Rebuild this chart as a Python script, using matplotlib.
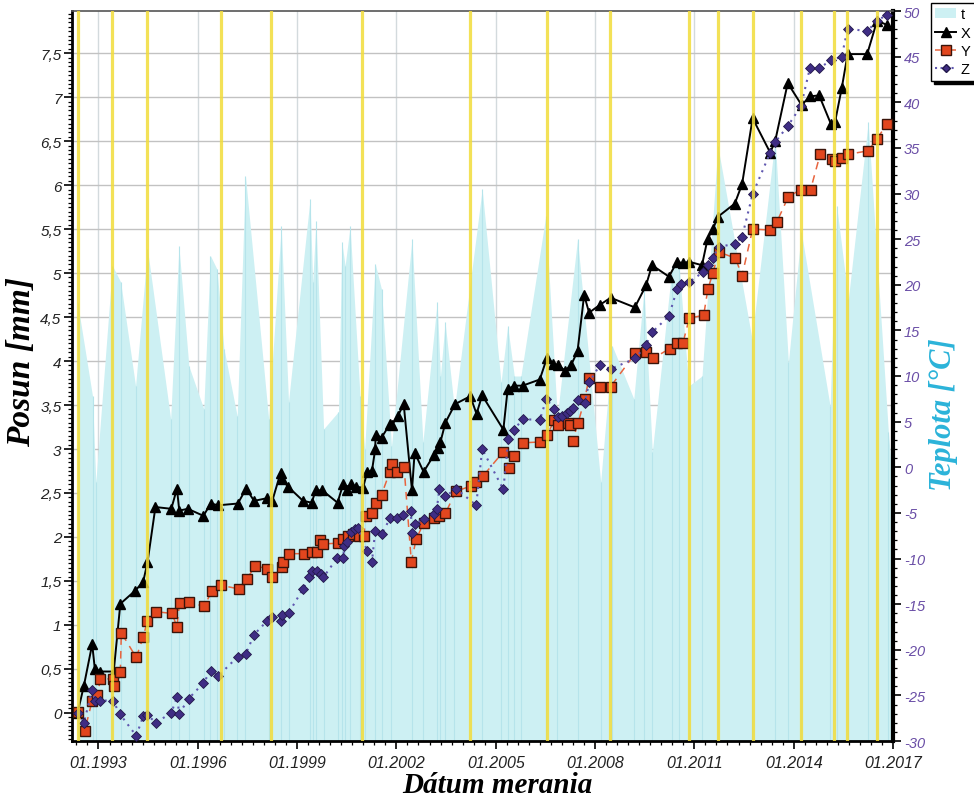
import matplotlib
matplotlib.use('Agg')
import matplotlib.pyplot as plt
from matplotlib.ticker import MultipleLocator
from matplotlib.lines import Line2D
from matplotlib.patches import Patch

plt.rcParams['font.family'] = ['Liberation Sans', 'DejaVu Sans']

# ---------------- data (decimal years) ----------------
x_dates = [1992.37, 1992.56, 1992.81, 1992.89, 1993.06, 1993.46, 1993.66, 1994.11, 1994.35, 1994.48,
           1994.72, 1995.20, 1995.37, 1995.44, 1995.70, 1996.17, 1996.39, 1996.62, 1997.21, 1997.46,
           1997.70, 1998.08, 1998.25, 1998.50, 1998.53, 1998.73, 1999.18, 1999.44, 1999.56, 1999.76,
           2000.22, 2000.39, 2000.51, 2000.64, 2000.79, 2000.99, 2001.12, 2001.26, 2001.36, 2001.37,
           2001.55, 2001.80, 2001.86, 2002.05, 2002.22, 2002.47, 2002.55, 2002.82, 2003.13, 2003.25,
           2003.33, 2003.48, 2003.77, 2004.23, 2004.42, 2004.59, 2005.23, 2005.36, 2005.56, 2005.81,
           2006.33, 2006.55, 2006.74, 2006.89, 2007.10, 2007.27, 2007.47, 2007.67, 2007.82, 2008.15,
           2008.47, 2009.20, 2009.54, 2009.72, 2010.23, 2010.48, 2010.65, 2010.83, 2011.23, 2011.40,
           2011.56, 2011.71, 2012.22, 2012.44, 2012.76, 2013.29, 2013.44, 2013.82, 2014.24, 2014.49,
           2014.77, 2015.12, 2015.25, 2015.45, 2015.63, 2016.22, 2016.52, 2016.83]
x_vals = [0.00, 0.31, 0.78, 0.50, 0.47, 0.47, 1.24, 1.39, 1.49, 1.71,
          2.34, 2.32, 2.55, 2.30, 2.32, 2.24, 2.38, 2.36, 2.38, 2.55,
          2.41, 2.44, 2.41, 2.73, 2.66, 2.57, 2.41, 2.39, 2.53, 2.53,
          2.39, 2.60, 2.53, 2.60, 2.57, 2.56, 2.74, 2.75, 3.00, 3.16,
          3.13, 3.28, 3.27, 3.38, 3.51, 2.53, 2.96, 2.74, 2.93, 3.01,
          3.08, 3.30, 3.51, 3.60, 3.40, 3.61, 3.22, 3.68, 3.72, 3.72,
          3.79, 4.04, 3.97, 3.95, 3.89, 3.95, 4.11, 4.75, 4.55, 4.64,
          4.72, 4.61, 4.86, 5.09, 4.96, 5.13, 5.11, 5.13, 5.09, 5.39,
          5.50, 5.64, 5.79, 6.01, 6.76, 6.37, 6.50, 7.16, 6.91, 7.01,
          7.02, 6.70, 6.72, 7.10, 7.49, 7.49, 7.87, 7.82]

y_dates = [1992.38, 1992.58, 1992.81, 1992.96, 1993.06, 1993.44, 1993.46, 1993.66, 1993.69, 1994.14,
           1994.35, 1994.48, 1994.75, 1995.22, 1995.37, 1995.45, 1995.74, 1996.19, 1996.42, 1996.70,
           1997.23, 1997.48, 1997.73, 1998.10, 1998.25, 1998.53, 1998.56, 1998.75, 1999.21, 1999.44,
           1999.59, 1999.69, 1999.79, 2000.24, 2000.39, 2000.54, 2000.69, 2000.87, 2001.01, 2001.09,
           2001.26, 2001.37, 2001.55, 2001.80, 2001.86, 2002.03, 2002.23, 2002.45, 2002.60, 2002.83,
           2003.15, 2003.30, 2003.48, 2003.80, 2004.26, 2004.41, 2004.61, 2005.23, 2005.39, 2005.56,
           2005.81, 2006.34, 2006.56, 2006.77, 2006.89, 2007.17, 2007.24, 2007.32, 2007.49, 2007.69,
           2007.82, 2008.15, 2008.47, 2009.22, 2009.53, 2009.75, 2010.25, 2010.48, 2010.65, 2010.85,
           2011.28, 2011.41, 2011.56, 2011.73, 2012.24, 2012.44, 2012.76, 2013.29, 2013.49, 2013.84,
           2014.22, 2014.51, 2014.80, 2015.15, 2015.25, 2015.45, 2015.63, 2016.25, 2016.52, 2016.83]
y_vals = [0.01, -0.21, 0.14, 0.20, 0.38, 0.39, 0.31, 0.47, 0.91, 0.63,
          0.86, 1.05, 1.15, 1.13, 0.98, 1.25, 1.26, 1.21, 1.38, 1.45,
          1.41, 1.52, 1.67, 1.64, 1.54, 1.66, 1.71, 1.81, 1.81, 1.83,
          1.83, 1.96, 1.92, 1.93, 1.98, 2.01, 2.03, 2.01, 2.01, 2.24,
          2.27, 2.39, 2.48, 2.74, 2.83, 2.74, 2.80, 1.72, 1.98, 2.16,
          2.22, 2.24, 2.27, 2.52, 2.58, 2.63, 2.69, 2.97, 2.78, 2.92,
          3.07, 3.08, 3.16, 3.33, 3.27, 3.29, 3.27, 3.09, 3.30, 3.57,
          3.81, 3.71, 3.71, 4.09, 4.10, 4.03, 4.14, 4.20, 4.20, 4.49,
          4.52, 4.82, 5.00, 5.24, 5.17, 4.97, 5.50, 5.49, 5.58, 5.87,
          5.95, 5.95, 6.35, 6.30, 6.28, 6.31, 6.35, 6.39, 6.53, 6.70]

z_dates = [1992.38, 1992.56, 1992.81, 1992.89, 1993.06, 1993.44, 1993.64, 1994.14, 1994.35, 1994.48,
           1994.74, 1995.20, 1995.37, 1995.44, 1995.72, 1996.17, 1996.39, 1996.62, 1997.21, 1997.45,
           1997.70, 1998.08, 1998.23, 1998.50, 1998.55, 1998.75, 1999.18, 1999.36, 1999.45, 1999.61,
           1999.71, 1999.79, 2000.21, 2000.39, 2000.43, 2000.51, 2000.62, 2000.74, 2000.84, 2001.12,
           2001.26, 2001.36, 2001.55, 2001.82, 2002.02, 2002.20, 2002.43, 2002.47, 2002.55, 2002.83,
           2003.12, 2003.22, 2003.30, 2003.48, 2003.80, 2004.41, 2004.59, 2005.23, 2005.38, 2005.56,
           2005.81, 2006.33, 2006.53, 2006.77, 2006.89, 2007.00, 2007.14, 2007.24, 2007.32, 2007.49,
           2007.69, 2007.82, 2008.14, 2008.47, 2009.22, 2009.53, 2009.73, 2010.23, 2010.48, 2010.61,
           2010.85, 2011.26, 2011.41, 2011.56, 2011.73, 2012.22, 2012.44, 2012.76, 2013.29, 2013.44,
           2013.82, 2014.22, 2014.49, 2014.77, 2015.13, 2015.45, 2015.63, 2016.22, 2016.52, 2016.83]
z_vals = [0.00, -0.11, 0.26, 0.14, 0.14, 0.14, -0.01, -0.26, -0.04, -0.03,
          -0.11, 0.00, 0.18, -0.01, 0.16, 0.34, 0.48, 0.42, 0.64, 0.67,
          0.89, 1.04, 1.09, 1.05, 1.11, 1.14, 1.41, 1.54, 1.61, 1.61,
          1.58, 1.54, 1.76, 1.76, 1.90, 1.94, 2.06, 2.09, 2.10, 1.84,
          1.72, 2.07, 2.03, 2.22, 2.22, 2.25, 2.30, 2.05, 2.15, 2.20,
          2.26, 2.32, 2.55, 2.46, 2.55, 2.36, 3.00, 2.54, 3.11, 3.22,
          3.34, 3.33, 3.57, 3.45, 3.36, 3.38, 3.41, 3.43, 3.47, 3.56,
          3.52, 3.76, 3.95, 3.91, 4.03, 4.18, 4.33, 4.51, 4.82, 4.88,
          4.90, 5.01, 5.09, 5.17, 5.30, 5.33, 5.41, 5.90, 6.37, 6.49,
          6.67, 6.90, 7.33, 7.33, 7.42, 7.46, 7.78, 7.75, 7.87, 7.94]

t_dates = [1992.37, 1992.82, 1992.92, 1993.42, 1993.67, 1994.12, 1994.48, 1995.18, 1995.43, 1995.73,
           1996.18, 1996.38, 1996.58, 1996.79, 1997.19, 1997.44, 1998.14, 1998.52, 1998.74, 1999.39,
           1999.47, 1999.57, 1999.80, 2000.25, 2000.35, 2000.45, 2000.60, 2000.90, 2001.04, 2001.36,
           2001.55, 2001.85, 2002.47, 2002.80, 2003.23, 2003.33, 2003.47, 2003.75, 2004.59, 2005.16,
           2005.36, 2005.56, 2005.76, 2006.51, 2006.86, 2007.47, 2008.17, 2008.52, 2009.17, 2009.48,
           2009.73, 2010.33, 2010.53, 2010.83, 2011.23, 2011.71, 2012.74, 2013.44, 2013.84, 2014.23,
           2015.10, 2015.30, 2015.65, 2016.25, 2016.86, 2016.95]
t_vals = [18.0, 7.8, -1.6, 22.1, 20.3, 8.9, 23.9, 5.3, 24.2, 11.1,
          6.4, 23.2, 21.7, 13.0, 5.6, 31.9, 5.3, 26.4, 7.2, 29.4,
          20.3, 27.0, 4.2, 6.1, 24.7, 22.1, 26.4, 7.8, 2.0, 22.3,
          19.5, 2.3, 25.0, 2.8, 18.1, 10.0, 15.9, 6.4, 30.5, 9.3,
          15.5, 10.0, 10.0, 27.5, 5.6, 25.0, -1.6, 13.3, 7.5, 19.5,
          1.7, 22.1, 22.5, 8.9, 10.0, 35.2, 14.1, 36.0, 11.5, 25.8,
          6.7, 28.6, 18.4, 37.8, 3.9, 0.0]

event_dates = [1992.37, 1993.42, 1994.48, 1996.70, 1998.21, 2000.95, 2004.23, 2006.55,
               2008.45, 2010.83, 2011.70, 2012.76, 2014.23, 2015.23, 2015.62, 2016.52]

year_ticks = [1993, 1996, 1999, 2002, 2005, 2008, 2011, 2014, 2017]
year_labels = ['01.%d' % y for y in year_ticks]
mm_ticks = [i * 0.5 for i in range(16)]
mm_labels = [('%g' % v).replace('.', ',') for v in mm_ticks]
t_ticks = list(range(-30, 51, 5))
t_labels = [str(v) for v in t_ticks]

# ---------------- styles ----------------
FILL = '#cdf0f3'
STRIPE = '#b6e4eb'
YELLOW = '#f2dc3a'
RED = '#e2461e'
PURPLE = '#3f2d84'
TICKPURPLE = '#6a4ea6'
CYAN_LABEL = '#2bb3d9'

fig = plt.figure(figsize=(9.74, 8.03), dpi=100)
ax = fig.add_axes([72 / 974, 1 - 742 / 803, (893 - 72) / 974, 730 / 803])
ax2 = ax.twinx()
ax3 = ax.twinx()
ax.set_zorder(0)
ax2.set_zorder(1)
ax3.set_zorder(2)
ax2.patch.set_visible(False)
ax3.patch.set_visible(False)

xlim = (1992.2, 2017.0)
ylim = (-0.32, 7.98)
ax.set_xlim(*xlim)
ax.set_ylim(*ylim)
ax3.set_ylim(*ylim)
ax2.set_ylim(-30, 50)

# grid (bottom layer)
ax.grid(True, which='major', axis='y', color='#c2c2c2', lw=1.0)
ax.grid(True, which='major', axis='x', color='#d3dadd', lw=1.0)
for s in ax.spines.values():
    s.set_visible(False)

# temperature area
ax2.fill_between(t_dates, -30, t_vals, color=FILL, lw=0, zorder=1)
ax2.vlines(t_dates, -30, t_vals, color=STRIPE, lw=0.8, zorder=1.5)

# displacement series
ax3.plot(x_dates, x_vals, color='black', lw=1.4, marker='^', ms=7.5,
         mfc='black', mec='black', zorder=3)
ax3.plot(y_dates, y_vals, color='#e8643e', lw=1.1, ls=(0, (5, 4)), marker='s', ms=7.5,
         mfc=RED, mec='#3a140a', mew=1.0, zorder=4)
ax3.plot(z_dates, z_vals, color='#6058b0', lw=1.5, ls=(0, (1, 2.5)), marker='D', ms=5.2,
         mfc=PURPLE, mec='#22184a', mew=0.6, zorder=5)
for d in event_dates:
    ax3.axvline(d, color=YELLOW, lw=2.3, alpha=0.85, zorder=6)
ax3.set_axis_off()

# spines on ax2
ax2.spines['left'].set_linewidth(2.0)
ax2.spines['left'].set_color('black')
ax2.spines['bottom'].set_linewidth(2.0)
ax2.spines['bottom'].set_color('black')
ax2.spines['right'].set_linewidth(3.0)
ax2.spines['right'].set_color('black')
ax2.spines['top'].set_linewidth(1.2)
ax2.spines['top'].set_color('#555555')

# ticks
ax.set_xticks(year_ticks, labels=year_labels, fontstyle='italic', fontsize=11.5)
ax.xaxis.set_minor_locator(MultipleLocator(1 / 3))
ax.set_yticks(mm_ticks, labels=mm_labels, fontstyle='italic', fontsize=11)
ax.yaxis.set_minor_locator(MultipleLocator(0.05))
ax.tick_params(axis='x', which='major', direction='out', length=6, width=1.2, colors='black', pad=4)
ax.tick_params(axis='y', which='major', direction='out', length=6, width=1.2, colors='black', pad=1.5)
ax.tick_params(axis='both', which='minor', direction='out', length=3, width=0.9, colors='black')
for lbl in ax.get_xticklabels() + ax.get_yticklabels():
    lbl.set_color('#222222')

ax2.set_yticks(t_ticks, labels=t_labels, fontstyle='italic', fontsize=10.5)
ax2.yaxis.set_minor_locator(MultipleLocator(1))
ax2.tick_params(axis='y', which='major', direction='out', length=6, width=1.2, colors='black', pad=2)
ax2.tick_params(axis='y', which='minor', direction='out', length=3, width=0.9, colors='black')
for lbl in ax2.get_yticklabels():
    lbl.set_color(TICKPURPLE)

# axis titles
serif = ['Liberation Serif', 'DejaVu Serif']
fig.text(497 / 974, 1 - 786 / 803, 'Dátum merania', family=serif, fontsize=21,
         fontweight='bold', fontstyle='italic', ha='center', va='center')
fig.text(22 / 974, 1 - 362 / 803, 'Posun [mm]', family=serif, fontsize=24,
         fontweight='bold', fontstyle='italic', ha='center', va='center', rotation=90)
fig.text(944 / 974, 1 - 415 / 803, 'Teplota [°C]', family=serif, fontsize=22,
         fontweight='bold', fontstyle='italic', ha='center', va='center', rotation=90,
         color=CYAN_LABEL)

# legend
handles = [Patch(facecolor=FILL, edgecolor='none'),
           Line2D([], [], color='black', lw=1.4, marker='^', ms=6.5, mfc='black'),
           Line2D([], [], color='#e8643e', lw=1.1, ls='--', marker='s', ms=6.5, mfc=RED, mec='#3a140a'),
           Line2D([], [], color='#6058b0', lw=1.5, ls=':', marker='D', ms=4.5, mfc=PURPLE, mec='#22184a')]
leg = fig.legend(handles, ['t', 'X', 'Y', 'Z'], loc='upper left',
                 bbox_to_anchor=(931 / 974, 1 - 4 / 803), bbox_transform=fig.transFigure,
                 frameon=True, fancybox=False, edgecolor='black', framealpha=1,
                 shadow={'color': 'black', 'alpha': 1.0}, fontsize=10.5,
                 handlelength=1.4, handletextpad=0.35, borderpad=0.3, labelspacing=0.3,
                 borderaxespad=0)
leg.get_frame().set_linewidth(1.0)

fig.savefig('out.png', dpi=100)
